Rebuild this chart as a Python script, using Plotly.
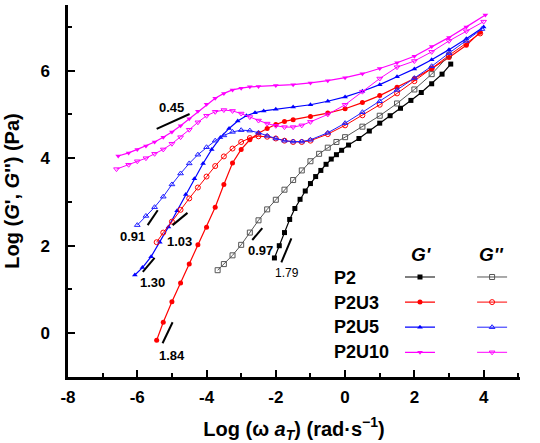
import plotly.graph_objects as go

# ---------------- data (log10 values) ----------------
p2_gp_x = [-2.04,-1.9,-1.75,-1.6,-1.45,-1.3,-1.15,-1.0,-0.85,-0.7,-0.55,-0.4,-0.25,-0.1,0.1,0.4,0.7,1.0,1.3,1.6,1.9,2.2,2.5,2.8,3.05]
p2_gp_y = [1.72,2.0,2.3,2.6,2.85,3.06,3.25,3.42,3.58,3.72,3.86,3.98,4.08,4.18,4.3,4.45,4.62,4.8,4.97,5.14,5.32,5.5,5.7,5.92,6.15]

p2_gpp_x = [-3.68,-3.5,-3.25,-3.0,-2.75,-2.5,-2.25,-2.0,-1.75,-1.5,-1.25,-1.0,-0.75,-0.5,-0.25,0,0.5,1.0,1.5,2.0,2.5,3.0]
p2_gpp_y = [1.44,1.58,1.78,2.02,2.3,2.58,2.83,3.05,3.28,3.5,3.72,3.93,4.1,4.24,4.37,4.48,4.72,4.97,5.25,5.57,5.92,6.35]

p2u3_gp_x = [-5.44,-5.25,-5.0,-4.75,-4.5,-4.25,-4.0,-3.75,-3.5,-3.25,-3.0,-2.75,-2.5,-2.25,-2.0,-1.75,-1.5,-1.0,-0.5,0,0.5,1.0,1.5,2.0,2.5,3.0,3.5,3.9]
p2u3_gp_y = [-0.16,0.25,0.72,1.15,1.58,2.02,2.42,2.88,3.4,3.89,4.2,4.42,4.57,4.68,4.77,4.84,4.88,4.95,5.03,5.13,5.27,5.43,5.62,5.82,6.05,6.3,6.58,6.88]

p2u3_gpp_x = [-5.44,-5.25,-5.0,-4.75,-4.5,-4.25,-4.0,-3.75,-3.5,-3.25,-3.0,-2.75,-2.5,-2.25,-2.0,-1.75,-1.5,-1.25,-1.0,-0.5,0,0.5,1.0,1.5,2.0,2.5,3.0,3.5,3.9]
p2u3_gpp_y = [2.08,2.3,2.55,2.82,3.08,3.33,3.58,3.82,4.04,4.22,4.37,4.46,4.5,4.49,4.45,4.4,4.37,4.37,4.4,4.55,4.75,4.98,5.22,5.48,5.76,6.05,6.35,6.62,6.85]

p2u5_gp_x = [-6.07,-5.85,-5.6,-5.35,-5.1,-4.85,-4.6,-4.35,-4.1,-3.85,-3.6,-3.35,-3.1,-2.85,-2.6,-2.35,-2.0,-1.5,-1.0,-0.5,0,0.5,1.0,1.5,2.0,2.5,3.0,3.5,4.0]
p2u5_gp_y = [1.33,1.5,1.75,2.08,2.43,2.8,3.17,3.53,3.88,4.2,4.47,4.68,4.85,4.97,5.04,5.08,5.12,5.17,5.22,5.3,5.4,5.53,5.68,5.86,6.04,6.25,6.48,6.73,7.0]

p2u5_gpp_x = [-6.0,-5.75,-5.5,-5.25,-5.0,-4.75,-4.5,-4.25,-4.0,-3.75,-3.5,-3.25,-3.0,-2.75,-2.5,-2.25,-2.0,-1.75,-1.5,-1.25,-1.0,-0.5,0,0.5,1.0,1.5,2.0,2.5,3.0,3.5,3.95]
p2u5_gpp_y = [2.47,2.68,2.88,3.12,3.4,3.65,3.88,4.08,4.25,4.4,4.52,4.6,4.64,4.63,4.58,4.51,4.45,4.4,4.38,4.38,4.42,4.58,4.8,5.05,5.3,5.56,5.83,6.1,6.4,6.68,6.95]

p2u10_gp_x = [-6.55,-6.25,-6.0,-5.75,-5.5,-5.25,-5.0,-4.75,-4.5,-4.25,-4.0,-3.75,-3.5,-3.25,-3.0,-2.75,-2.5,-2.0,-1.5,-1.0,-0.5,0,0.5,1.0,1.5,2.0,2.5,3.0,3.5,4.05]
p2u10_gp_y = [4.05,4.12,4.2,4.28,4.37,4.48,4.6,4.74,4.9,5.07,5.23,5.37,5.48,5.56,5.6,5.63,5.64,5.66,5.68,5.72,5.77,5.84,5.93,6.05,6.18,6.33,6.55,6.76,7.0,7.27]

p2u10_gpp_x = [-6.6,-6.25,-6.0,-5.75,-5.5,-5.25,-5.0,-4.75,-4.5,-4.25,-4.0,-3.75,-3.5,-3.25,-3.0,-2.75,-2.5,-2.25,-2.0,-1.75,-1.5,-1.25,-1.0,-0.5,0,0.5,1.0,1.5,2.0,2.5,3.0,3.5,4.0]
p2u10_gpp_y = [3.75,3.85,3.93,4.0,4.1,4.2,4.33,4.48,4.65,4.82,4.97,5.06,5.1,5.08,5.02,4.94,4.86,4.79,4.74,4.71,4.71,4.75,4.83,5.0,5.22,5.52,5.82,6.08,6.22,6.43,6.68,6.9,7.12]

samples = ["P2", "P2U3", "P2U5", "P2U10"]
colors = ["#000000", "#ff0000", "#0000ff", "#ff00ff"]
gpp_colors = ["#555555", "#ff0000", "#2020ff", "#ff00ff"]
gp_symbols = ["square", "circle", "triangle-up", "triangle-down"]
gpp_symbols = ["square-open", "circle-open", "triangle-up-open", "triangle-down-open"]
gp_data = [(p2_gp_x, p2_gp_y), (p2u3_gp_x, p2u3_gp_y), (p2u5_gp_x, p2u5_gp_y), (p2u10_gp_x, p2u10_gp_y)]
gpp_data = [(p2_gpp_x, p2_gpp_y), (p2u3_gpp_x, p2u3_gpp_y), (p2u5_gpp_x, p2u5_gpp_y), (p2u10_gpp_x, p2u10_gpp_y)]

# slope indicators: label, x0, y0, x1, y1, label x, label y
slope_labels = ["0.45", "0.91", "1.03", "1.30", "1.84", "0.97", "1.79"]
slope_x0 = [-5.44, -5.70, -4.98, -5.84, -5.27, -2.68, -1.84]
slope_y0 = [4.67, 2.47, 2.47, 1.40, -0.23, 2.13, 1.62]
slope_x1 = [-4.49, -5.41, -4.55, -5.50, -4.98, -2.39, -1.55]
slope_y1 = [5.01, 2.81, 2.75, 1.72, 0.25, 2.40, 2.17]
slope_lx = [-5.01, -6.13, -4.78, -5.55, -5.01, -2.45, -1.67]
slope_ly = [5.15, 2.22, 2.10, 1.17, -0.50, 1.88, 1.37]

x_ticks = [-8, -6, -4, -2, 0, 2, 4]
y_ticks = [0, 2, 4, 6]

FONT = "Liberation Sans, Arial, sans-serif"

fig = go.Figure()

for i, s in enumerate(samples):
    x, y = gp_data[i]
    fig.add_trace(go.Scatter(
        x=x, y=y, mode="lines+markers", name="", legend="legend",
        line=dict(color=colors[i], width=1.2),
        marker=dict(symbol=gp_symbols[i], size=5, color=colors[i]),
    ))
for i, s in enumerate(samples):
    x, y = gpp_data[i]
    fig.add_trace(go.Scatter(
        x=x, y=y, mode="lines+markers", name="", legend="legend2",
        line=dict(color=gpp_colors[i], width=1),
        marker=dict(symbol=gpp_symbols[i], size=5, color=gpp_colors[i],
                    line=dict(width=1, color=gpp_colors[i])),
    ))

shapes = []
annotations = []
for i, lab in enumerate(slope_labels):
    shapes.append(dict(type="line", xref="x", yref="y",
                       x0=slope_x0[i], y0=slope_y0[i], x1=slope_x1[i], y1=slope_y1[i],
                       line=dict(color="black", width=2)))
    small = lab == "1.79"
    annotations.append(dict(
        x=slope_lx[i], y=slope_ly[i], xref="x", yref="y", showarrow=False,
        xanchor="center", yanchor="middle",
        text=lab if small else "<b>" + lab + "</b>",
        font=dict(family=FONT, size=12 if small else 13, color="black")))

# legend row labels and column headers
row_y = [0.266, 0.199, 0.134, 0.067]
for i, s in enumerate(samples):
    annotations.append(dict(x=0.584, y=row_y[i], xref="paper", yref="paper",
                            xanchor="left", yanchor="middle", showarrow=False,
                            text="<b>" + s + "</b>",
                            font=dict(family=FONT, size=18, color="black")))
annotations.append(dict(x=0.781, y=0.328, xref="paper", yref="paper", showarrow=False,
                        xanchor="center", yanchor="middle",
                        text="<b><i>G'</i></b>", font=dict(family=FONT, size=19, color="black")))
annotations.append(dict(x=0.938, y=0.328, xref="paper", yref="paper", showarrow=False,
                        xanchor="center", yanchor="middle",
                        text="<b><i>G''</i></b>", font=dict(family=FONT, size=19, color="black")))

axis_common = dict(
    showline=True, linecolor="black", linewidth=2.5, mirror=False,
    ticks="inside", ticklen=7, tickwidth=2, tickcolor="black",
    showgrid=False, zeroline=False, automargin=False,
    tickfont=dict(family=FONT, size=17, color="black"),
)

fig.update_layout(
    width=540, height=443,
    margin=dict(l=68, r=20, t=5, b=66),
    plot_bgcolor="white", paper_bgcolor="white",
    font=dict(family=FONT, color="black"),
    showlegend=True,
    xaxis=dict(
        range=[-8, 5.05], tickmode="array", tickvals=x_ticks,
        ticktext=["<b>%d</b>" % v for v in x_ticks],
        ticklabelstandoff=3,
        minor=dict(tickvals=[-7, -5, -3, -1, 1, 3, 5], ticks="inside", ticklen=4,
                   tickwidth=2, tickcolor="black"),
        title=dict(text="<b>Log (ω <i>a<sub>T</sub></i>) (rad·s<sup>−1</sup>)</b>",
                   font=dict(family=FONT, size=20, color="black"), standoff=22),
        **axis_common),
    yaxis=dict(
        range=[-1, 7.5], tickmode="array", tickvals=y_ticks,
        ticktext=["<b>%d</b>" % v for v in y_ticks],
        ticklabelstandoff=12,
        minor=dict(tickvals=[1, 3, 5, 7], ticks="inside", ticklen=4,
                   tickwidth=2, tickcolor="black"),
        title=dict(text="<b>Log (<i>G</i>', <i>G</i>'') (Pa)</b>",
                   font=dict(family=FONT, size=20, color="black"), standoff=16),
        **axis_common),
    legend=dict(x=0.7345, y=0.316, xanchor="left", yanchor="top",
                bgcolor="rgba(0,0,0,0)", borderwidth=0,
                font=dict(family=FONT, size=17), tracegroupgap=0),
    legend2=dict(x=0.894, y=0.316, xanchor="left", yanchor="top",
                 bgcolor="rgba(0,0,0,0)", borderwidth=0,
                 font=dict(family=FONT, size=17), tracegroupgap=0),
    shapes=shapes,
    annotations=annotations,
)

fig.write_html("out.html", config={"displayModeBar": False},
               post_script="document.body.style.margin='0px';document.body.style.overflow='hidden';")
